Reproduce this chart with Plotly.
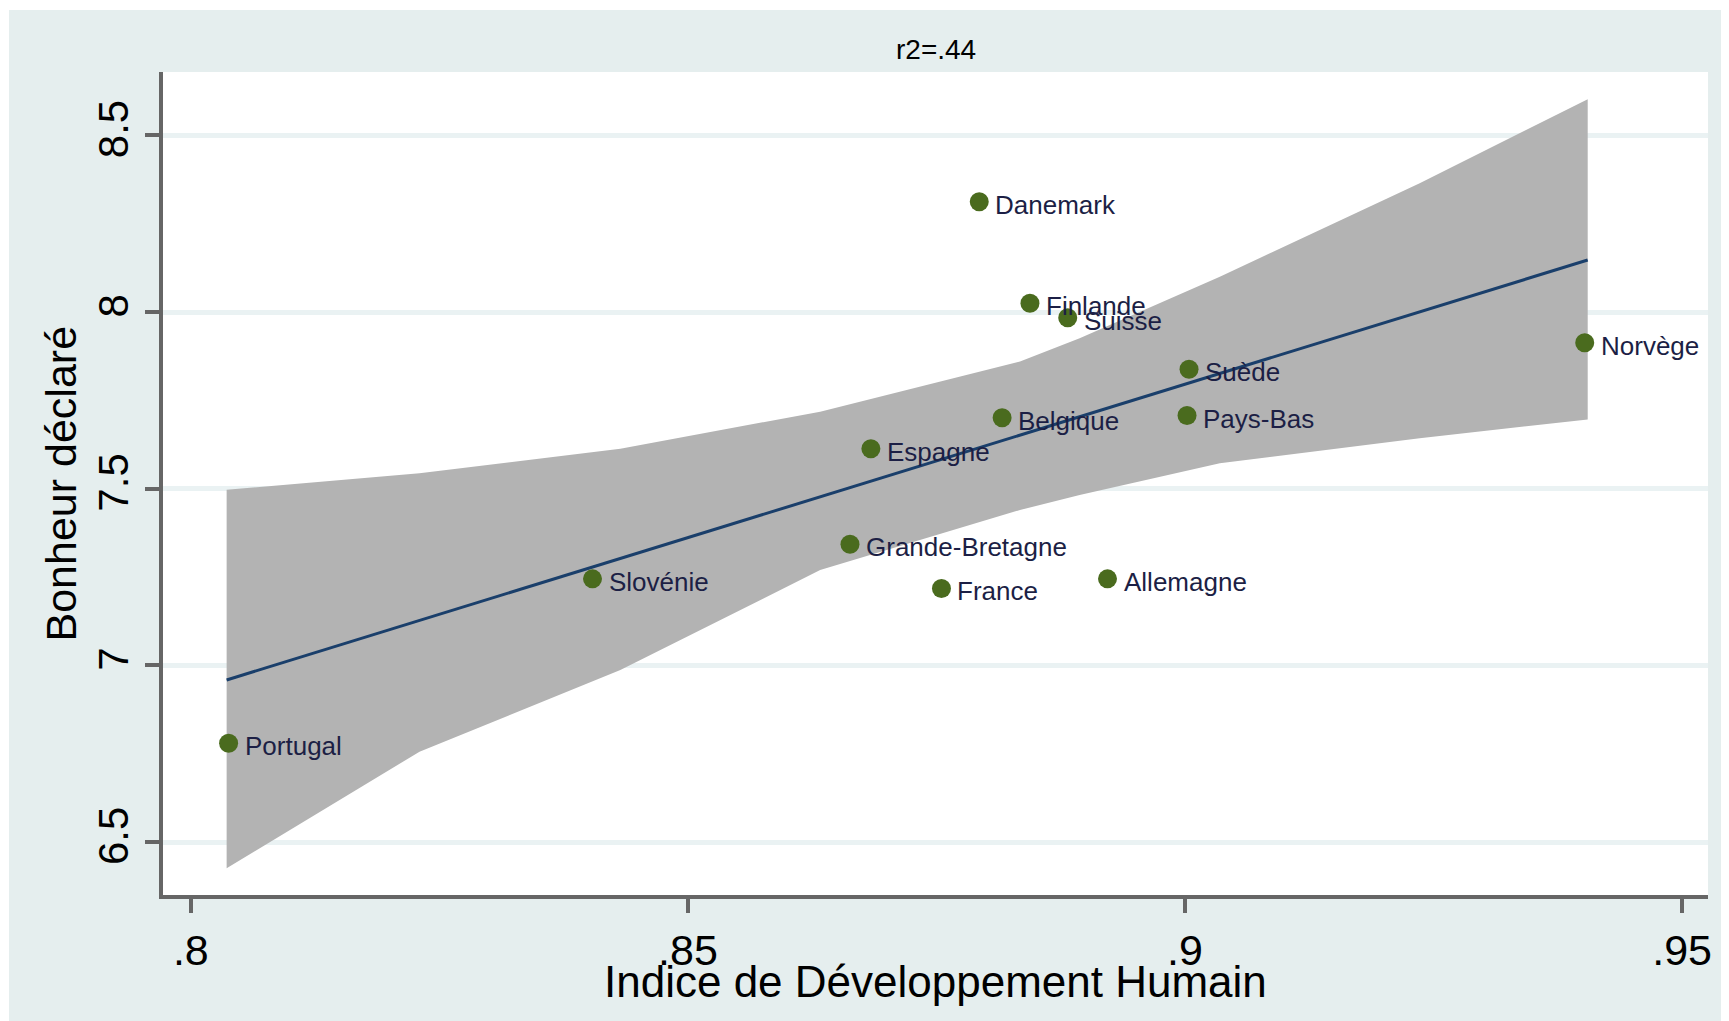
import plotly.graph_objects as go

# Values
pays = ['Portugal', 'Slovénie', 'Grande-Bretagne', 'Espagne', 'France', 'Danemark',
        'Belgique', 'Finlande', 'Suisse', 'Allemagne', 'Suède', 'Pays-Bas', 'Norvège']
idh = [0.8038, 0.8404, 0.8663, 0.8684, 0.8755, 0.8793,
       0.8816, 0.8844, 0.8882, 0.8922, 0.9004, 0.9002, 0.9402]
bonheur = [6.780, 7.245, 7.343, 7.613, 7.218, 8.312,
           7.701, 8.025, 7.984, 7.245, 7.838, 7.707, 7.913]

# Fitted line and 95% band (lfitci)
fit_idh = [0.8036, 0.9405]
fit_bonheur = [6.959, 8.147]
band_idh = [0.8036, 0.8230, 0.8432, 0.8633, 0.8834, 0.8894, 0.9035, 0.9236, 0.9405]
band_upper = [7.497, 7.544, 7.613, 7.718, 7.860, 7.926, 8.100, 8.364, 8.602]
band_lower = [6.426, 6.756, 6.987, 7.270, 7.440, 7.482, 7.572, 7.643, 7.696]

x_ticks = [0.8, 0.85, 0.9, 0.95]
x_labels = ['.8', '.85', '.9', '.95']
y_ticks = [6.5, 7, 7.5, 8, 8.5]
y_labels = ['6.5', '7', '7.5', '8', '8.5']

OFF = 8  # default body margin of the html page
W, H = 1729 - OFF, 1021 - OFF
L, R, T, B = 155, 21, 64, 126
pw, ph = W - L - R, H - T - B


def px_x(x):
    # page pixel -> paper x
    return (x - OFF - L) / pw


def px_y(y):
    # page pixel -> paper y
    return (T + ph - (y - OFF)) / ph


font = 'Liberation Sans, Arial, sans-serif'
region = '#E5EEEE'

fig = go.Figure()

# confidence band
fig.add_trace(go.Scatter(
    x=band_idh + band_idh[::-1],
    y=band_upper + band_lower[::-1],
    fill='toself',
    fillcolor='#B3B3B3',
    line=dict(width=0),
    mode='lines',
    hoverinfo='skip',
    showlegend=False
))

# fitted line
fig.add_trace(go.Scatter(
    x=fit_idh, y=fit_bonheur,
    mode='lines',
    line=dict(color='#1A3F6B', width=3),
    showlegend=False
))

# countries
fig.add_trace(go.Scatter(
    x=idh, y=bonheur,
    mode='markers',
    marker=dict(size=19, color='#4A6B1E'),
    text=pays,
    hoverinfo='text+x+y',
    showlegend=False
))

for p, xv, yv in zip(pays, idh, bonheur):
    fig.add_annotation(x=xv, y=yv, text=p, showarrow=False,
                       xanchor='left', yanchor='middle', xshift=14, yshift=-3,
                       font=dict(family=font, size=26, color='#1C1F45'))

# axis titles
fig.add_annotation(xref='paper', yref='paper', x=0.5, y=px_y(981),
                   text='Indice de Développement Humain', showarrow=False,
                   xanchor='center', yanchor='middle',
                   font=dict(family=font, size=44, color='black'))
fig.add_annotation(xref='paper', yref='paper', x=px_x(60), y=0.5,
                   text='Bonheur déclaré', showarrow=False, textangle=-90,
                   xanchor='center', yanchor='middle',
                   font=dict(family=font, size=43, color='black'))
fig.add_annotation(xref='paper', yref='paper', x=0.5, y=px_y(50),
                   text='r2=.44', showarrow=False,
                   xanchor='center', yanchor='middle',
                   font=dict(family=font, size=28, color='black'))

# thin white page margin at top and left
fig.add_shape(type='rect', xref='paper', yref='paper', layer='below',
              x0=-L / pw, x1=(W - L) / pw, y0=px_y(10), y1=(ph + T) / ph,
              fillcolor='white', line=dict(width=0))
fig.add_shape(type='rect', xref='paper', yref='paper', layer='below',
              x0=-L / pw, x1=px_x(9), y0=-B / ph, y1=(ph + T) / ph,
              fillcolor='white', line=dict(width=0))

fig.update_layout(
    width=W, height=H,
    margin=dict(l=L, r=R, t=T, b=B, pad=0),
    paper_bgcolor=region,
    plot_bgcolor='white',
    font=dict(family=font, color='black'),
    xaxis=dict(
        range=[0.7972, 0.9526],
        tickvals=x_ticks, ticktext=x_labels,
        tickfont=dict(size=43),
        showgrid=False, zeroline=False,
        showline=True, linewidth=4, linecolor='#666666',
        ticks='outside', ticklen=14, tickwidth=4, tickcolor='#666666'
    ),
    yaxis=dict(
        range=[6.3506, 8.679],
        tickvals=y_ticks, ticktext=y_labels,
        tickangle=-90,
        tickfont=dict(size=42),
        showgrid=True, gridcolor='#EAF2F3', gridwidth=5,
        zeroline=False,
        showline=True, linewidth=4, linecolor='#666666',
        ticks='outside', ticklen=14, tickwidth=4, tickcolor='#666666'
    )
)

fig.write_html('out.html')
